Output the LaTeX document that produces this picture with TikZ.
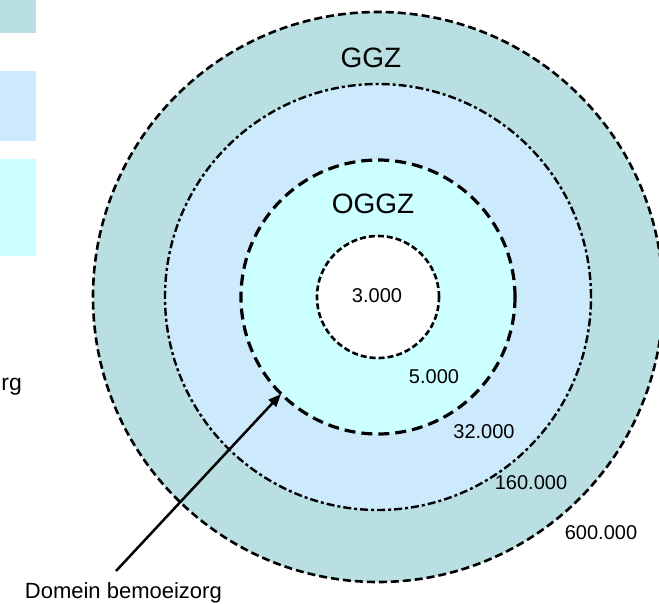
\documentclass[tikz,border=0pt]{standalone}
\usepackage{fontspec}
\setmainfont{Liberation Sans}
\usetikzlibrary{arrows.meta}
\definecolor{ggz}{RGB}{185,223,226}
\definecolor{midblue}{RGB}{204,234,252}
\definecolor{oggzc}{RGB}{204,255,255}
\tikzset{
  ring/.style={circle, inner sep=0pt, outer sep=0pt, draw=black},
  lbl/.style={inner sep=0pt, font=\fontsize{20}{22}\selectfont},
  big/.style={inner sep=0pt, font=\fontsize{28}{30}\selectfont},
}
\begin{document}
\begin{tikzpicture}[x=1pt,y=-1pt]
\clip (0,0) rectangle (659,603);
\fill[white] (0,0) rectangle (659,603);
% legend boxes (cropped)
\fill[ggz] (0,0) rectangle (36,33);
\fill[midblue] (0,71) rectangle (36,141);
\fill[oggzc] (0,159) rectangle (36,256);
\node[lbl, anchor=base east, font=\fontsize{23}{25}\selectfont] (rg) at (22,390) {rg};
% circles
\node[ring, fill=ggz, minimum size=570pt, line width=2.6pt, dash pattern=on 8pt off 4pt] (outer) at (378,297) {};
\node[ring, fill=midblue, minimum size=426pt, line width=2.4pt, dash pattern=on 8pt off 3pt on 3pt off 3pt] (mid) at (378,297) {};
\node[ring, fill=oggzc, minimum size=274pt, line width=3.2pt, dash pattern=on 11pt off 6pt] (oggz) at (378,297) {};
\node[ring, fill=white, minimum size=122pt, line width=2.6pt, dash pattern=on 6pt off 3pt] (inner) at (378,297) {};
% labels
\node[big] (tggz) at (371,58) {GGZ};
\node[big] (toggz) at (373,204) {OGGZ};
\node[lbl] (t3) at (377,296) {3.000};
\node[lbl] (t5) at (434,377) {5.000};
\node[lbl] (t32) at (484,432) {32.000};
\node[lbl] (t160) at (531,483) {160.000};
\node[lbl] (t600) at (601,533) {600.000};
\node[lbl, anchor=base east, font=\fontsize{22}{24}\selectfont] (dom) at (222,598) {Domein bemoeizorg};
\coordinate (tail) at (116,571);
\draw[line width=2.5pt, -{Triangle[length=13pt,width=10pt]}] (tail) -- (oggz.225);
\end{tikzpicture}
\end{document}
